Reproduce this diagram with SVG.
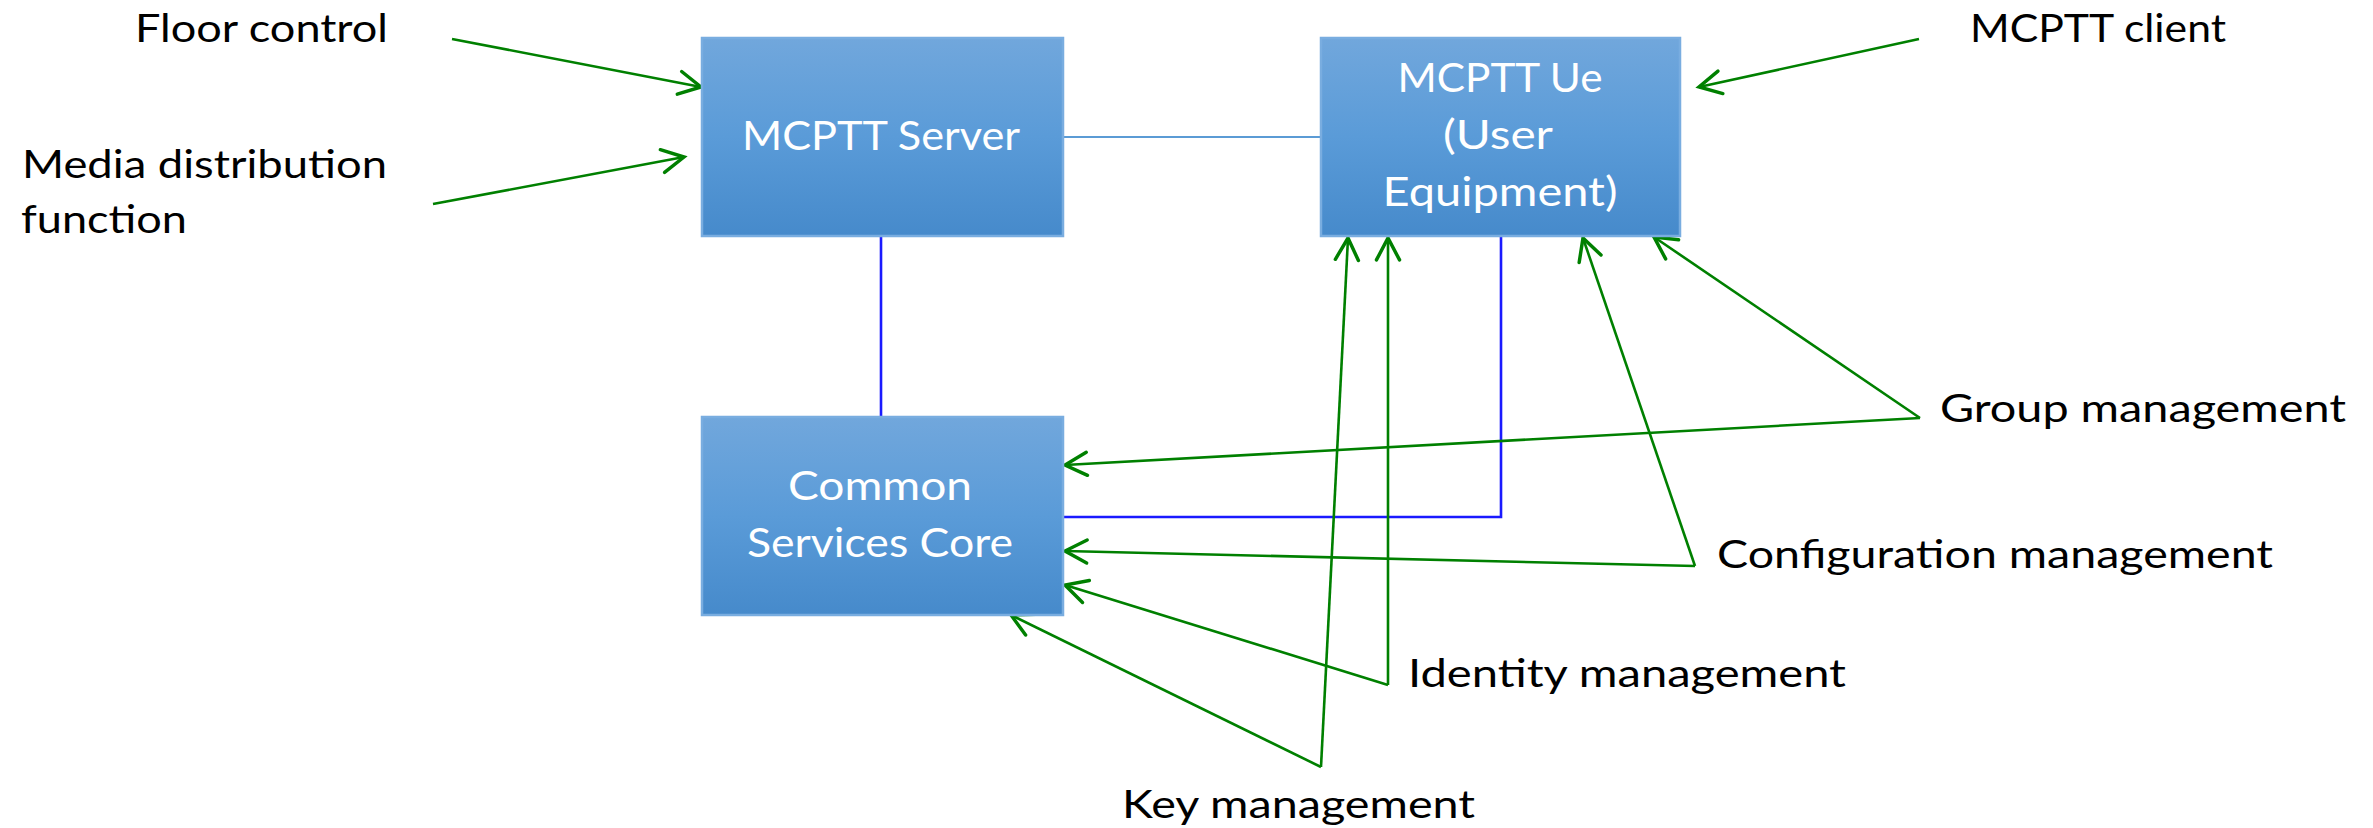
<svg xmlns="http://www.w3.org/2000/svg" width="2373" height="828" viewBox="0 0 2373 828">
  <defs>
    <linearGradient id="boxFill" x1="0" y1="0" x2="0" y2="1">
      <stop offset="0" stop-color="#71a7dc"/>
      <stop offset="0.5" stop-color="#5a9bd8"/>
      <stop offset="1" stop-color="#468acb"/>
    </linearGradient>
    <marker id="openArrow" markerUnits="userSpaceOnUse" markerWidth="30" markerHeight="30" viewBox="-22 -12 26 24" refX="0" refY="0" orient="auto">
      <path d="M -19 -10 L 0 0 L -19 10" fill="none" stroke="#008000" stroke-width="3" stroke-linecap="round" stroke-linejoin="miter"/>
    </marker>
    <style>
      .box { fill: url(#boxFill); stroke: #79ade0; stroke-width: 2.5; }
      .boxText { font-family: Lato, "Open Sans", "Liberation Sans", sans-serif; font-size: 41px; fill: #ffffff; text-anchor: middle; }
      .label { font-family: Lato, "Open Sans", "Liberation Sans", sans-serif; font-size: 39px; fill: #000000; }
      .feed { stroke: #008000; stroke-width: 2.6; fill: none; marker-end: url(#openArrow); }
      .link { stroke: #1a1aff; stroke-width: 2.6; fill: none; }
      .peer { stroke: #5b9bd5; stroke-width: 2.2; fill: none; }
    </style>
  </defs>

  <rect width="2373" height="828" fill="#ffffff"/>

  <!-- connectors -->
  <g id="connectors">
    <line class="peer" x1="1063" y1="137" x2="1321" y2="137"/>
    <line class="link" x1="881" y1="236" x2="881" y2="418"/>
    <polyline class="link" points="1501,236 1501,517 1063,517"/>

    <line class="feed" x1="452" y1="39" x2="701" y2="87"/>
    <line class="feed" x1="433" y1="204" x2="684" y2="157"/>
    <line class="feed" x1="1919" y1="39" x2="1699" y2="87"/>

    <line class="feed" x1="1920" y1="418" x2="1654" y2="237"/>
    <line class="feed" x1="1920" y1="418" x2="1065" y2="465"/>

    <line class="feed" x1="1695" y1="566" x2="1583" y2="238"/>
    <line class="feed" x1="1695" y1="566" x2="1065" y2="551"/>

    <line class="feed" x1="1388" y1="685" x2="1388" y2="238"/>
    <line class="feed" x1="1388" y1="685" x2="1065" y2="585"/>

    <line class="feed" x1="1321" y1="767" x2="1348" y2="238"/>
    <line class="feed" x1="1321" y1="767" x2="1011" y2="615"/>
  </g>

  <!-- nodes -->
  <g id="mcptt-server">
    <rect class="box" x="702" y="38" width="361" height="198"/>
    <text class="boxText" x="881" y="150" textLength="278" lengthAdjust="spacingAndGlyphs">MCPTT Server</text>
  </g>

  <g id="mcptt-ue">
    <rect class="box" x="1321" y="38" width="359" height="198"/>
    <text class="boxText" x="1500" y="92" textLength="205" lengthAdjust="spacingAndGlyphs">MCPTT Ue</text>
    <text class="boxText" x="1498" y="149" textLength="110" lengthAdjust="spacingAndGlyphs">(User</text>
    <text class="boxText" x="1500" y="206" textLength="235" lengthAdjust="spacingAndGlyphs">Equipment)</text>
  </g>

  <g id="common-services-core">
    <rect class="box" x="702" y="417" width="361" height="198"/>
    <text class="boxText" x="880" y="500" textLength="184" lengthAdjust="spacingAndGlyphs">Common</text>
    <text class="boxText" x="880" y="557" textLength="266" lengthAdjust="spacingAndGlyphs">Services Core</text>
  </g>

  <g id="floor-control">
    <text class="label" x="135" y="42" textLength="253" lengthAdjust="spacingAndGlyphs">Floor control</text>
  </g>

  <g id="media-distribution-function">
    <text class="label" x="22" y="178" textLength="365" lengthAdjust="spacingAndGlyphs">Media distribution</text>
    <text class="label" x="21" y="233" textLength="166" lengthAdjust="spacingAndGlyphs">function</text>
  </g>

  <g id="mcptt-client">
    <text class="label" x="1970" y="42" textLength="256" lengthAdjust="spacingAndGlyphs">MCPTT client</text>
  </g>

  <g id="group-management">
    <text class="label" x="1940" y="422" textLength="406" lengthAdjust="spacingAndGlyphs">Group management</text>
  </g>

  <g id="configuration-management">
    <text class="label" x="1717" y="568" textLength="556" lengthAdjust="spacingAndGlyphs">Configuration management</text>
  </g>

  <g id="identity-management">
    <text class="label" x="1408" y="687" textLength="438" lengthAdjust="spacingAndGlyphs">Identity management</text>
  </g>

  <g id="key-management">
    <text class="label" x="1122" y="818" textLength="353" lengthAdjust="spacingAndGlyphs">Key management</text>
  </g>
</svg>
